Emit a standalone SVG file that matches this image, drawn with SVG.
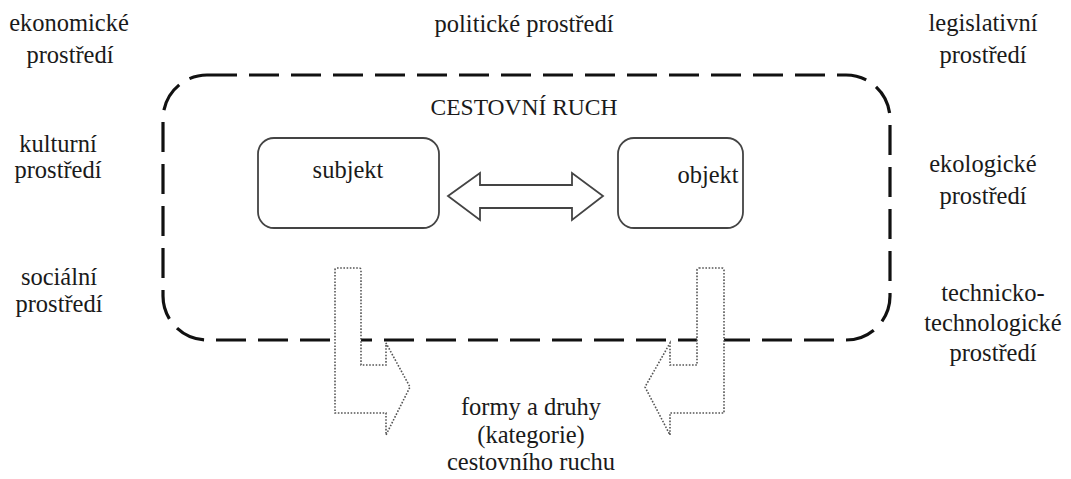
<svg xmlns="http://www.w3.org/2000/svg" width="1071" height="479" viewBox="0 0 1071 479">
<style>
.t{font-family:'Liberation Serif','Times New Roman',Times,serif;font-size:24.5px;fill:#1a1a1a;text-anchor:middle}
.cap{font-size:23.5px}
.box{fill:#fff;stroke:#444;stroke-width:1.8}
.dot{fill:#fff;stroke:#555;stroke-width:1.6;stroke-dasharray:1.6 1.6}
</style>
<rect width="1071" height="479" fill="#fff"/>
<g id="env-ekonomicke"><text class="t" x="69" y="31">ekonomické</text><text class="t" x="70" y="63">prostředí</text></g>
<g id="env-politicke"><text class="t" x="524" y="32">politické prostředí</text></g>
<g id="env-legislativni"><text class="t" x="983" y="31">legislativní</text><text class="t" x="983" y="63">prostředí</text></g>
<g id="env-kulturni"><text class="t" x="58" y="152">kulturní</text><text class="t" x="58" y="178">prostředí</text></g>
<g id="env-ekologicke"><text class="t" x="983" y="172">ekologické</text><text class="t" x="983" y="204">prostředí</text></g>
<g id="env-socialni"><text class="t" x="59" y="285">sociální</text><text class="t" x="59" y="312">prostředí</text></g>
<g id="env-technicke"><text class="t" x="993" y="301">technicko-</text><text class="t" x="993" y="331">technologické</text><text class="t" x="993" y="361">prostředí</text></g>
<g id="cestovni-ruch">
<rect x="163" y="75" width="727" height="265" rx="44" fill="none" stroke="#111" stroke-width="3.2" stroke-dasharray="30 12"/>
<text class="t cap" x="524" y="115">CESTOVNÍ RUCH</text>
</g>
<g id="subjekt"><rect class="box" x="258" y="138" width="181" height="90" rx="16"/><text class="t" x="348" y="178">subjekt</text></g>
<g id="objekt"><rect class="box" x="618" y="138" width="125" height="90" rx="16"/><text class="t" x="708" y="183">objekt</text></g>
<g id="formy"><text class="t" x="531" y="415">formy a druhy</text><text class="t" x="531" y="443">(kategorie)</text><text class="t" x="531" y="470">cestovního ruchu</text></g>
<g id="connectors">
<path class="box" d="M448,196 L480,173 L480,185 L572,185 L572,173 L603,196 L572,220 L572,208 L480,208 L480,220 Z"/>
<path class="dot" d="M337,268 L359,268 Q361,268 361,270 L361,365 L386,365 L386,343 L410,387 L386,435 L386,413 L335,413 L335,270 Q335,268 337,268 Z"/>
<path class="dot" d="M699,268 L722,268 Q724,268 724,270 L724,413 L670,413 L670,435 L645,387 L670,343 L670,365 L697,365 L697,270 Q697,268 699,268 Z"/>
</g>
</svg>
